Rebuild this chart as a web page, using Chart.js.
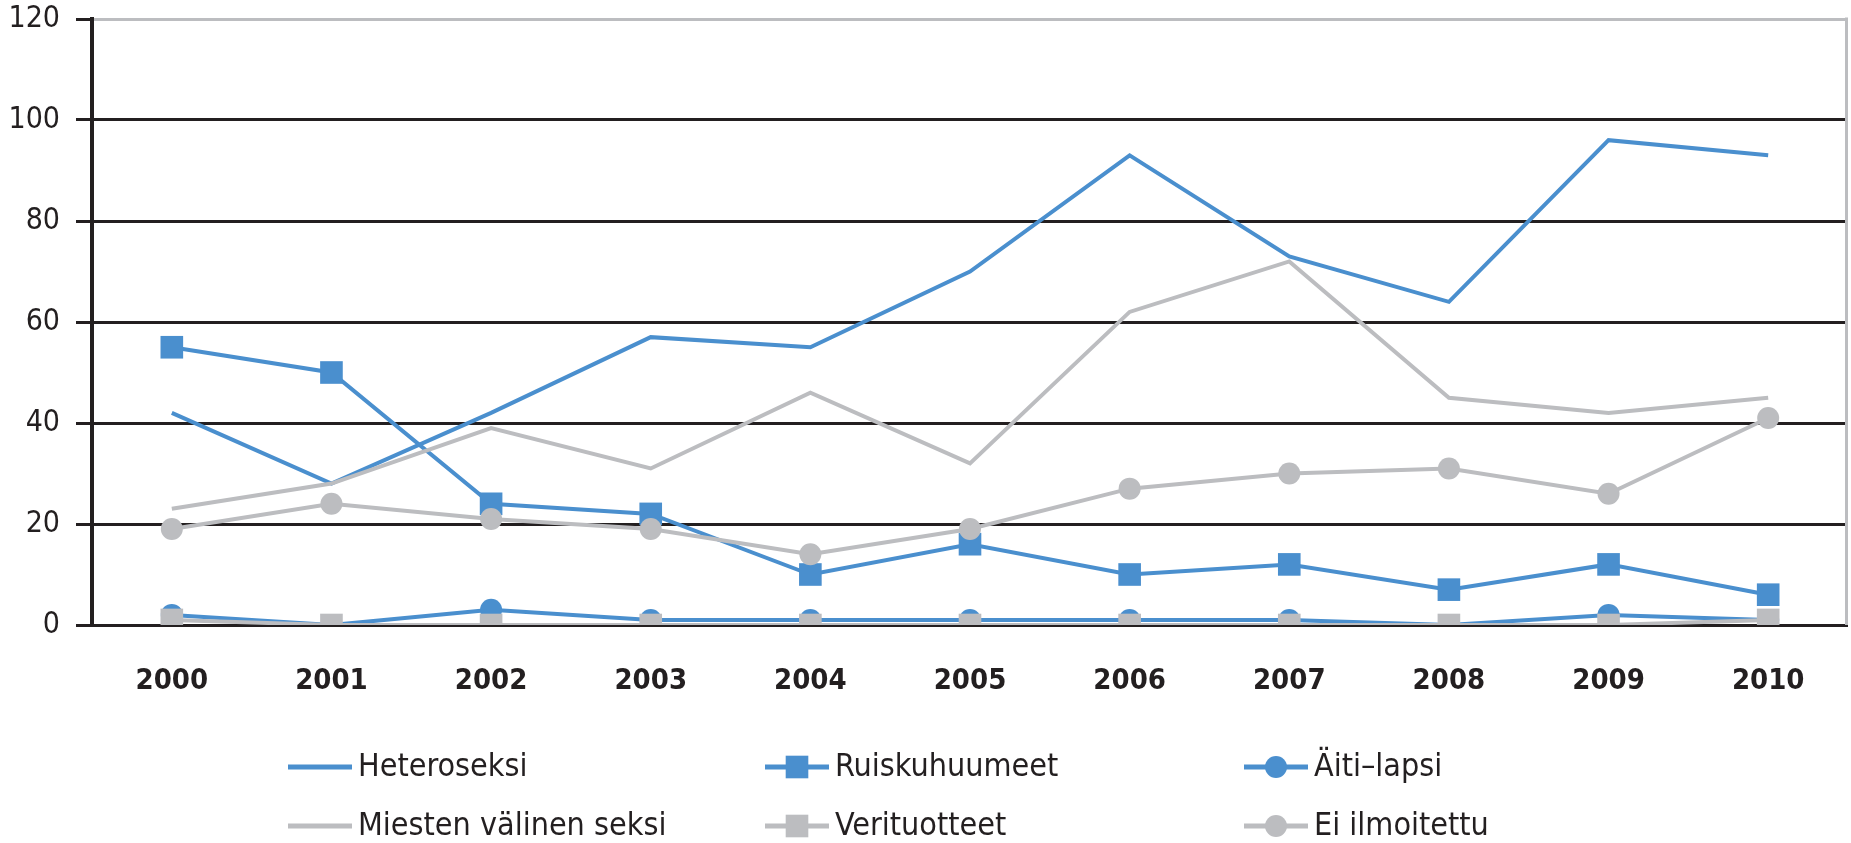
<!DOCTYPE html>
<html lang="fi">
<head>
<meta charset="utf-8">
<title>HIV-tartunnat tartuntatavan mukaan 2000–2010</title>
<script src="https://cdn.jsdelivr.net/npm/chart.js@4.4.1/dist/chart.umd.min.js"></script>
<style>
  html, body { margin: 0; padding: 0; background: #fff; }
  #wrap { position: relative; width: 1851px; height: 843px; }
</style>
</head>
<body>
<div id="wrap"><canvas id="chart"></canvas></div>
<script>
// Tartunnat vuosittain, luettu kuvasta
const years = ['2000', '2001', '2002', '2003', '2004', '2005', '2006', '2007', '2008', '2009', '2010'];
const heteroseksi    = [42, 28, 42, 57, 55, 70, 93, 73, 64, 96, 93];
const ruiskuhuumeet  = [55, 50, 24, 22, 10, 16, 10, 12, 7, 12, 6];
const aitiLapsi      = [2, 0, 3, 1, 1, 1, 1, 1, 0, 2, 1];
const miestenValinen = [23, 28, 39, 31, 46, 32, 62, 72, 45, 42, 45];
const verituotteet   = [1, 0, 0, 0, 0, 0, 0, 0, 0, 0, 1];
const eiIlmoitettu   = [19, 24, 21, 19, 14, 19, 27, 30, 31, 26, 41];
const yTicks = [0, 20, 40, 60, 80, 100, 120];

const BLUE = '#4a8fce';
const GREY = '#bcbdc0';
const INK = '#231f20';
const FONT = "'DejaVu Sans Condensed', 'DejaVu Sans', sans-serif";

// legendan sarakkeet ja rivit (px)
const LEGEND_COLS = [288, 765, 1244];
const LEGEND_ROWS = [767, 826];

function series(label, data, color, style, order) {
    const radius = style === 'rect' ? 16 : (style === 'circle' ? 11 : 0);
    return {
        label,
        data,
        borderColor: color,
        backgroundColor: color,
        pointBackgroundColor: color,
        pointBorderWidth: 0,
        pointStyle: style || 'circle',
        pointRadius: radius,
        pointHoverRadius: radius,
        borderWidth: 4,
        tension: 0,
        order
    };
}

// Oikean reunan harmaa viiva
const rightBorder = {
    id: 'rightBorder',
    beforeDatasetsDraw(chart) {
        const { ctx, chartArea } = chart;
        ctx.save();
        ctx.strokeStyle = GREY;
        ctx.lineWidth = 3;
        ctx.beginPath();
        ctx.moveTo(chartArea.right - 1.5, chartArea.top - 1.5);
        ctx.lineTo(chartArea.right - 1.5, chartArea.bottom);
        ctx.stroke();
        ctx.restore();
    }
};

// Legenda kolmessa sarakkeessa
const gridLegend = {
    id: 'gridLegend',
    afterDraw(chart) {
        const ctx = chart.ctx;
        ctx.save();
        chart.data.datasets.forEach((ds, i) => {
            const x0 = LEGEND_COLS[i % 3];
            const y = LEGEND_ROWS[Math.floor(i / 3)];
            ctx.strokeStyle = ds.borderColor;
            ctx.lineWidth = 5;
            ctx.beginPath();
            ctx.moveTo(x0, y);
            ctx.lineTo(x0 + 64, y);
            ctx.stroke();
            if (ds.pointRadius > 0) {
                ctx.fillStyle = ds.pointBackgroundColor;
                Chart.helpers.drawPoint(ctx, {
                    pointStyle: ds.pointStyle,
                    radius: ds.pointRadius,
                    rotation: 0,
                    borderWidth: 0
                }, x0 + 32, y);
            }
            ctx.fillStyle = INK;
            ctx.font = `32px ${FONT}`;
            ctx.textBaseline = 'middle';
            ctx.textAlign = 'left';
            ctx.fillText(ds.label, x0 + 70, y + 1);
        });
        ctx.restore();
    }
};

new Chart(document.getElementById('chart'), {
    type: 'line',
    data: {
        labels: years,
        datasets: [
            series('Heteroseksi', heteroseksi, BLUE, false, 2),
            series('Ruiskuhuumeet', ruiskuhuumeet, BLUE, 'rect', 2),
            series('Äiti–lapsi', aitiLapsi, BLUE, 'circle', 2),
            series('Miesten välinen seksi', miestenValinen, GREY, false, 1),
            series('Verituotteet', verituotteet, GREY, 'rect', 1),
            series('Ei ilmoitettu', eiIlmoitettu, GREY, 'circle', 1)
        ]
    },
    options: {
        responsive: true,
        maintainAspectRatio: false,
        animation: false,
        events: [],
        layout: {
            autoPadding: false,
            padding: { top: 19, right: 3, left: 0, bottom: 0 }
        },
        plugins: {
            legend: { display: false },
            tooltip: { enabled: false }
        },
        scales: {
            x: {
                offset: true,
                grid: { display: false, drawTicks: false },
                border: { display: false },
                ticks: {
                    color: INK,
                    font: { family: FONT, size: 29, weight: 'bold' },
                    padding: 39,
                    maxRotation: 0,
                    autoSkip: false
                },
                afterFit: scale => {
                    scale.height = 218;
                    scale.paddingLeft = 0;
                    scale.paddingRight = 0;
                }
            },
            y: {
                min: 0,
                max: 120,
                afterBuildTicks: scale => {
                    scale.ticks = yTicks.map(v => ({ value: v }));
                },
                grid: {
                    color: ctx => (ctx.tick && ctx.tick.value === 120 ? GREY : INK),
                    tickColor: INK,
                    lineWidth: 3,
                    tickLength: 16
                },
                border: { color: INK, width: 4 },
                ticks: {
                    color: INK,
                    font: { family: FONT, size: 30 },
                    padding: 16
                },
                afterFit: scale => {
                    scale.width = 92;
                    scale.paddingTop = 0;
                    scale.paddingBottom = 0;
                }
            }
        }
    },
    plugins: [rightBorder, gridLegend]
});
</script>
</body>
</html>
